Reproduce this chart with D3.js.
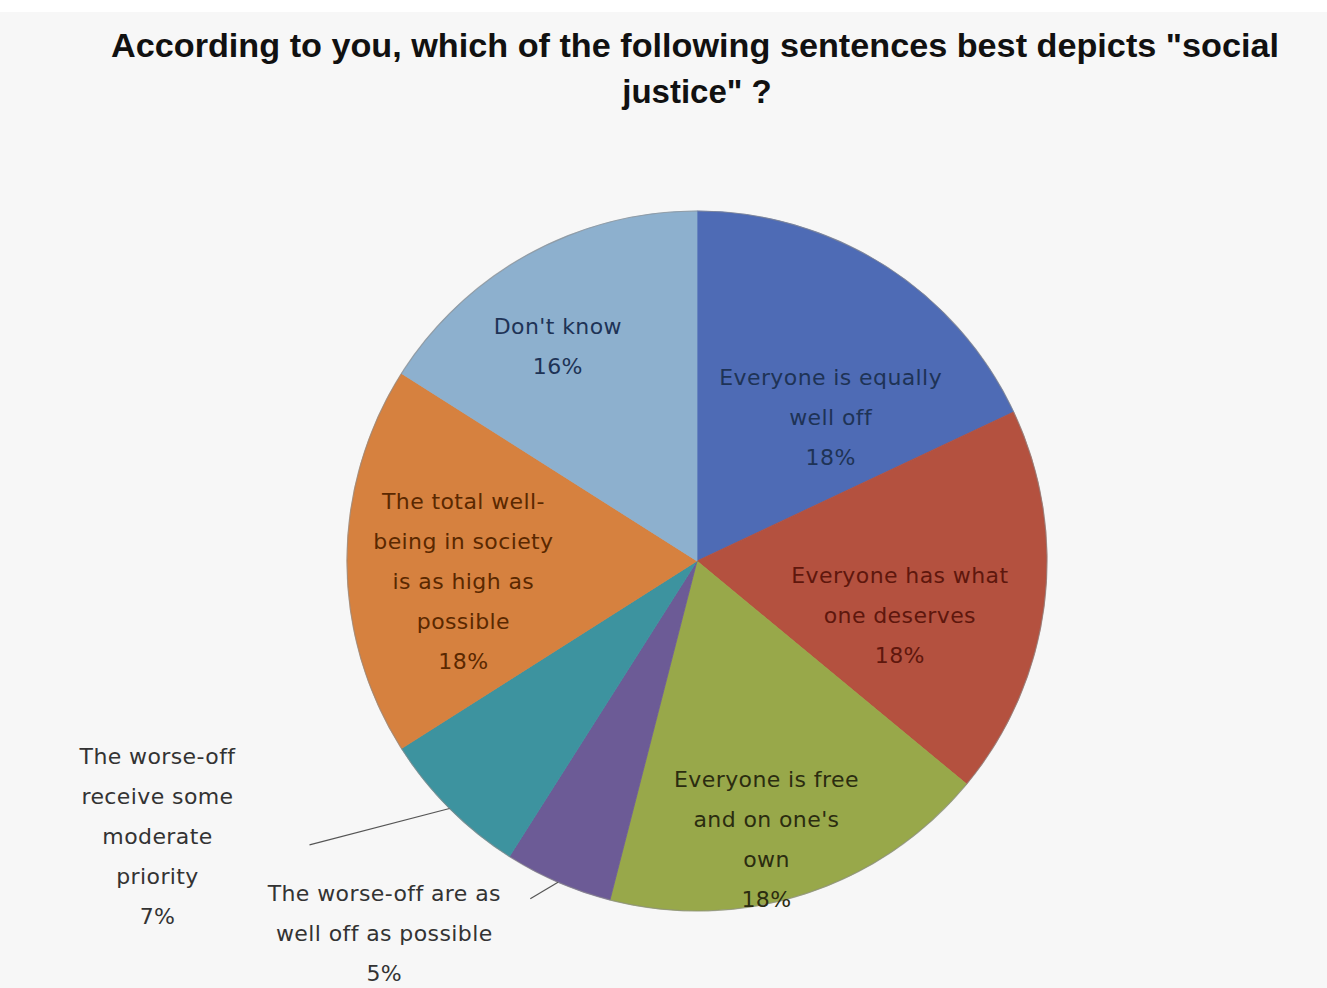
<!DOCTYPE html>
<html>
<head>
<meta charset="utf-8">
<script src="https://cdn.jsdelivr.net/npm/d3@7"></script>
<style>
  html, body { margin: 0; padding: 0; background: #ffffff; }
  svg { display: block; }
</style>
</head>
<body>
<svg id="chart" width="1327" height="988"></svg>
<script>
// ---- data ----
const categories = [
  "Everyone is equally well off",
  "Everyone has what one deserves",
  "Everyone is free and on one's own",
  "The worse-off are as well off as possible",
  "The worse-off receive some moderate priority",
  "The total well-being in society is as high as possible",
  "Don't know"
];
const values = [18, 18, 18, 5, 7, 18, 16];
const labelLines = [
  ["Everyone is equally", "well off", "18%"],
  ["Everyone has what", "one deserves", "18%"],
  ["Everyone is free", "and on one's", "own", "18%"],
  ["The worse-off are as", "well off as possible", "5%"],
  ["The worse-off", "receive some", "moderate", "priority", "7%"],
  ["The total well-", "being in society", "is as high as", "possible", "18%"],
  ["Don't know", "16%"]
];
const titleLines = [
  "According to you, which of the following sentences best depicts \"social",
  "justice\" ?"
];

// ---- styles / layout ----
const sliceColors = ["#4E6BB5", "#B4513F", "#98A84A", "#6C5B96", "#3D939F", "#D6813F", "#8DB0CE"];
const textColors  = ["#1E3356", "#5E170D", "#2B2C10", "#333333", "#333333", "#5A2800", "#1E3356"];
// label anchor in polar form: radius as fraction of pie radius, angle in degrees clockwise from north
const labelPolar = [
  {r: 0.56, a: 43}, {r: 0.60, a: 105}, {r: 0.82, a: 166}, {r: 1.39, a: 220},
  {r: 1.73, a: 243}, {r: 0.67, a: 265}, {r: 0.73, a: 327}
];
const outsideLabels = {3: {from: [146, -35]}, 4: {from: [152, 9]}};

const W = 1327, H = 988;
const cx = 697, cy = 561, R = 350;
const svg = d3.select("#chart");

svg.append("rect").attr("x", 0).attr("y", 12).attr("width", W).attr("height", H - 12).attr("fill", "#F7F7F7");

// title
const title = svg.append("text")
  .attr("font-family", "'Liberation Sans Narrow', 'Arial Narrow', sans-serif")
  .attr("font-weight", "bold").attr("font-size", 33).attr("fill", "#111")
  .attr("text-anchor", "middle");
title.append("tspan").attr("x", 695).attr("y", 57).text(titleLines[0])
  .attr("textLength", 1168).attr("lengthAdjust", "spacingAndGlyphs");
title.append("tspan").attr("x", 697).attr("y", 103).text(titleLines[1]);

// pie
const data = categories.map((c, i) => ({cat: c, value: values[i], i}));
const pie = d3.pie().value(d => d.value).sort(null);
const arcs = pie(data);
const arc = d3.arc().innerRadius(0).outerRadius(R);
const g = svg.append("g").attr("transform", `translate(${cx},${cy})`);

g.selectAll("path.slice").data(arcs).join("path")
  .attr("class", "slice")
  .attr("d", arc)
  .attr("fill", d => sliceColors[d.data.i])
  .attr("stroke", d => sliceColors[d.data.i])
  .attr("stroke-width", 0.8);
g.append("circle").attr("r", R).attr("fill", "none").attr("stroke", "#8a8a8a").attr("stroke-width", 1.2).attr("opacity", 0.6);

const polar = (r, deg) => {
  const t = deg * Math.PI / 180;
  return [r * Math.sin(t), -r * Math.cos(t)];
};

// leader lines
arcs.forEach(d => {
  const o = outsideLabels[d.data.i];
  if (!o) return;
  const mid = (d.startAngle + d.endAngle) / 2 * 180 / Math.PI;
  const p1 = polar(R, mid);
  const lp = labelPolar[d.data.i];
  const p0 = polar(lp.r * R, lp.a);
  g.append("line")
    .attr("x1", p0[0] + o.from[0]).attr("y1", p0[1] + o.from[1])
    .attr("x2", p1[0]).attr("y2", p1[1])
    .attr("stroke", "#555").attr("stroke-width", 1.2);
});

// labels
const lineH = 40;
arcs.forEach(d => {
  const i = d.data.i;
  const lp = labelPolar[i];
  const p = polar(lp.r * R, lp.a);
  const lines = labelLines[i];
  const t = g.append("text")
    .attr("font-family", "'DejaVu Sans', 'Open Sans', sans-serif")
    .attr("font-size", 22).attr("letter-spacing", 0.4).attr("fill", textColors[i])
    .attr("text-anchor", "middle");
  const y0 = p[1] - (lines.length - 1) * lineH / 2;
  lines.forEach((ln, k) => {
    t.append("tspan").attr("x", p[0]).attr("y", y0 + k * lineH).attr("dy", "0.35em").text(ln);
  });
});
</script>
</body>
</html>
